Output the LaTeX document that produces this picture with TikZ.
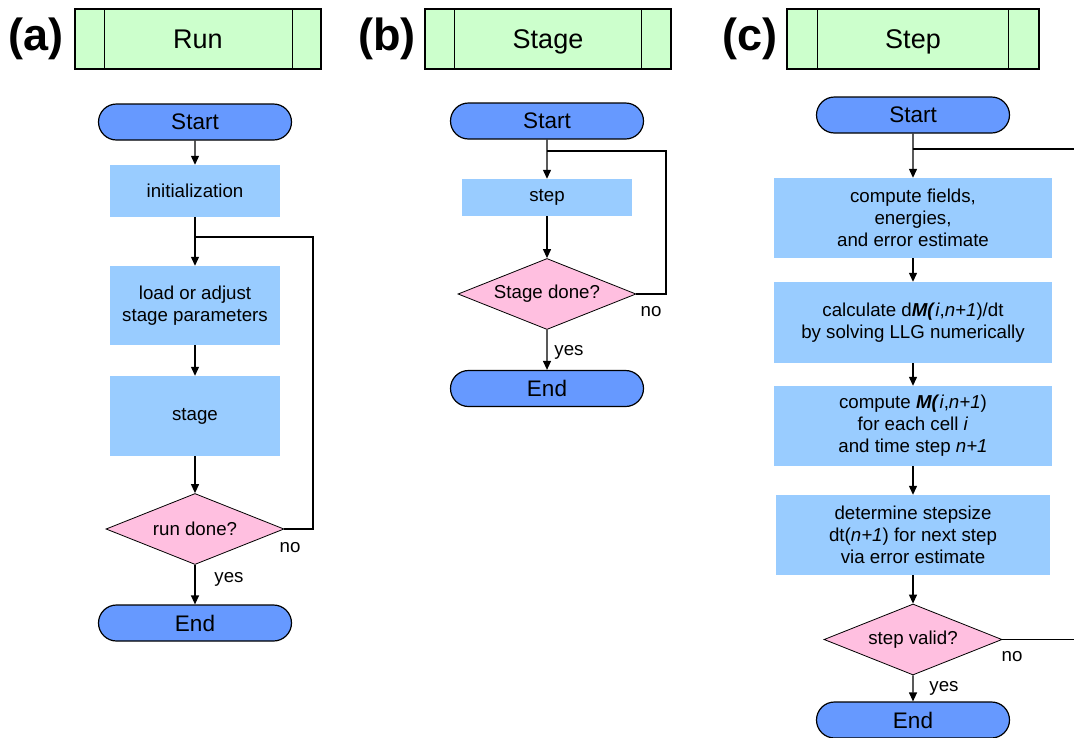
\documentclass[tikz,border=0pt]{standalone}
\usepackage{fontspec}
\setmainfont{Liberation Sans}
\usetikzlibrary{arrows.meta,shapes.geometric,shapes.misc}
\definecolor{hdrgreen}{HTML}{CCFFCC}
\definecolor{termblue}{HTML}{6699FF}
\definecolor{procblue}{HTML}{99CCFF}
\definecolor{decpink}{HTML}{FFBFE0}
\newcommand{\boxfont}{\fontsize{18.7}{22}\selectfont}
\newcommand{\bim}[1]{\textbf{\textit{#1}}}

\begin{document}
\begin{tikzpicture}[x=1pt,y=-1pt]
\tikzstyle{every node}+=[inner sep=2pt,font=\boxfont]
\tikzstyle{hdr}=[draw=black,line width=1.4pt,fill=hdrgreen,minimum height=60,text height=19,text depth=1,font=\fontsize{27}{30}\selectfont]
\tikzstyle{panel}=[font=\fontsize{45}{50}\selectfont\bfseries]
\tikzstyle{term}=[rounded rectangle,draw=black,line width=1.2pt,fill=termblue,minimum width=197,minimum height=36,font=\fontsize{22.5}{26}\selectfont]
\tikzstyle{proc}=[rectangle,fill=procblue,align=center]
\tikzstyle{dec}=[diamond,draw=black,line width=0.8pt,fill=decpink,aspect=2.5,minimum width=178,minimum height=71]
\tikzstyle{arr}=[-{Triangle[length=9pt,width=8pt]},line width=1.2pt]
\tikzstyle{ln}=[line width=1.2pt]
\useasboundingbox (0,0) rectangle (1074,737);
\clip (0,0) rectangle (1074,737);

\node[panel] (la) at (36,39) {(a)};
\node[panel] (lb) at (387,39) {(b)};
\node[panel] (lc) at (750,39) {(c)};
\node[hdr,minimum width=246] (ha) at (198,39) {Run};
\draw[line width=1.2pt] ([xshift=30]ha.north west) -- ([xshift=30]ha.south west);
\draw[line width=1.2pt] ([xshift=-29]ha.north east) -- ([xshift=-29]ha.south east);
\node[hdr,minimum width=246] (hb) at (548,39) {Stage};
\draw[line width=1.2pt] ([xshift=30]hb.north west) -- ([xshift=30]hb.south west);
\draw[line width=1.2pt] ([xshift=-30]hb.north east) -- ([xshift=-30]hb.south east);
\node[hdr,minimum width=252] (hc) at (913,39) {Step};
\draw[line width=1.2pt] ([xshift=31]hc.north west) -- ([xshift=31]hc.south west);
\draw[line width=1.2pt] ([xshift=-31]hc.north east) -- ([xshift=-31]hc.south east);

\node[term] (sa) at (195,122) {Start};
\node[proc,minimum width=170,minimum height=52] (init) at (195,191) {initialization};
\node[proc,minimum width=170,minimum height=79] (load) at (195,305.5) {load or adjust\\stage parameters};
\node[proc,minimum width=170,minimum height=80] (stage) at (195,416) {stage};
\node[dec] (rdone) at (195,529) {run done?};
\node[term] (ea) at (195,623) {End};
\coordinate (ja) at (195,237);
\coordinate (ra) at (313,237);
\draw[arr] (sa) -- (init);
\draw[arr] (init) -- (load);
\draw[arr] (load) -- (stage);
\draw[arr] (stage) -- (rdone);
\draw[arr] (rdone) -- (ea);
\draw[ln] (rdone.east) -| (ra) -- (ja);
\node (noa) at (290,548) {no};
\node (yesa) at (229,579) {yes};

\node[term] (sb) at (547,121) {Start};
\node[proc,minimum width=170,minimum height=37] (stepb) at (547,197.5) {step};
\node[dec] (sdone) at (547,294) {Stage done?};
\node[term] (eb) at (547,388.5) {End};
\coordinate (jb) at (547,151);
\coordinate (rb) at (666,151);
\draw[arr] (sb) -- (stepb);
\draw[arr] (stepb) -- (sdone);
\draw[arr] (sdone) -- (eb);
\draw[ln] (sdone.east) -| (rb) -- (jb);
\node (nob) at (651,312) {no};
\node (yesb) at (569,352) {yes};

\node[term] (sc) at (913,115) {Start};
\node[proc,minimum width=278,minimum height=80] (c1) at (913,218) {compute fields,\\energies,\\and error estimate};
\node[proc,minimum width=278,minimum height=81] (c2) at (913,322.5) {calculate d\bim{M(}\textit{i},\textit{n+1})/dt\\by solving LLG numerically};
\node[proc,minimum width=278,minimum height=80] (c3) at (913,426) {compute \bim{M(}\textit{i},\textit{n+1})\\for each cell \textit{i}\\and time step \textit{n+1}};
\node[proc,minimum width=274,minimum height=80] (c4) at (913,535) {determine stepsize\\dt(\textit{n+1}) for next step\\via error estimate};
\node[dec] (sv) at (913,639.5) {step valid?};
\node[term] (ec) at (913,720) {End};
\coordinate (jc) at (913,149);
\coordinate (rc) at (1078,149);
\draw[arr] (sc) -- (c1);
\draw[arr] (c1) -- (c2);
\draw[arr] (c2) -- (c3);
\draw[arr] (c3) -- (c4);
\draw[arr] (c4) -- (sv);
\draw[arr] (sv) -- (ec);
\draw[ln] (sv.east) -| (rc) -- (jc);
\node (noc) at (1012,657) {no};
\node (yesc) at (944,688) {yes};
\end{tikzpicture}
\end{document}
